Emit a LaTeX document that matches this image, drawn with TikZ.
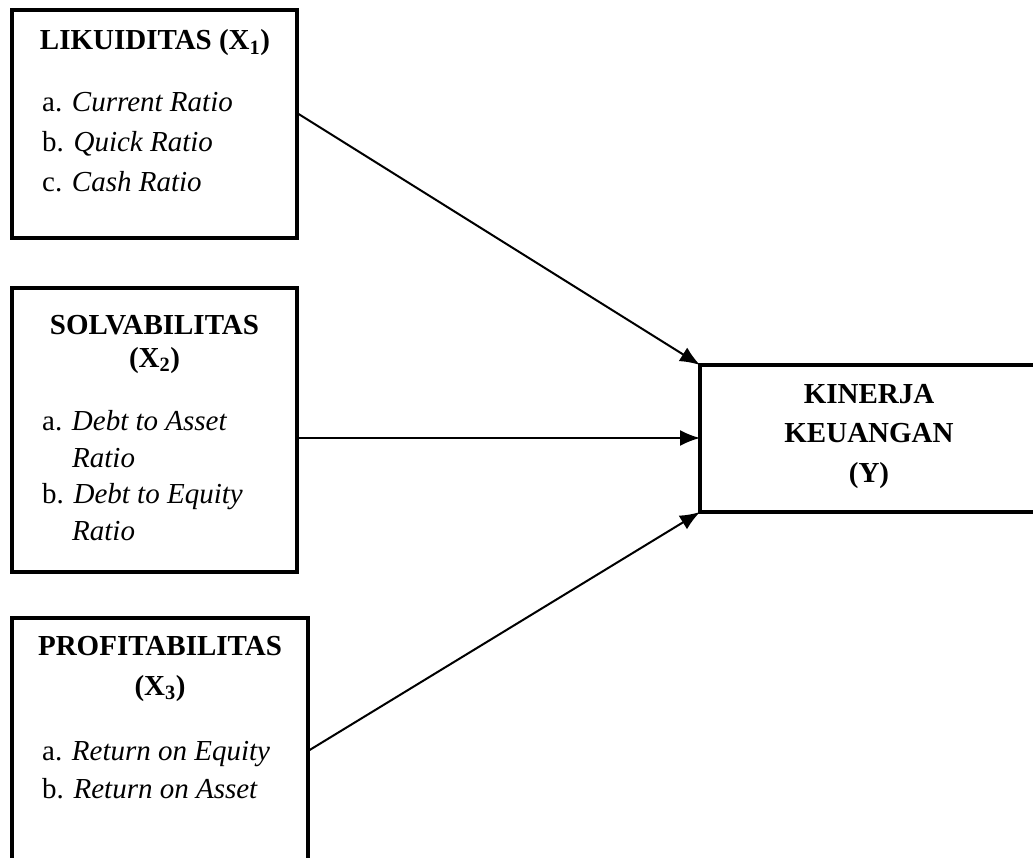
\documentclass[tikz,border=0pt]{standalone}
\usepackage{fontspec}
\setmainfont{Liberation Serif}
\usetikzlibrary{arrows.meta}
\tikzset{
  box/.style={draw=black, line width=3.5pt, rectangle, inner sep=0pt, outer sep=0pt, anchor=north west, fill=none},
  arr/.style={draw=black, line width=2pt, -{Latex[length=20pt,width=16pt]}},
  ttl/.style={font=\fontsize{29}{34}\selectfont\bfseries, anchor=base, inner sep=0pt},
  itm/.style={font=\fontsize{29}{34}\selectfont, anchor=base west, inner sep=0pt}
}
\begin{document}
\begin{tikzpicture}[x=1pt,y=-1pt]
\useasboundingbox (0,0) rectangle (1033,858);
\clip (0,0) rectangle (1033,858);
% boxes
\node[box, minimum width=285pt, minimum height=228pt] (b1) at (12,10) {};
\node[box, minimum width=285pt, minimum height=284pt] (b2) at (12,288) {};
\node[box, minimum width=296pt, minimum height=260pt] (b3) at (12,618) {};
\node[box, minimum width=360pt, minimum height=147pt] (y) at (700,365) {};
% box 1 texts
\node[ttl] (t1) at (155,50) {LIKUIDITAS (X\textsubscript{1})};
\node[itm] (i11) at (42,112) {a. \textit{Current Ratio}};
\node[itm] (i12) at (42,152) {b. \textit{Quick Ratio}};
\node[itm] (i13) at (42,192) {c. \textit{Cash Ratio}};
% box 2 texts
\node[ttl] (t2a) at (154.5,335) {SOLVABILITAS};
\node[ttl] (t2b) at (154.5,367) {(X\textsubscript{2})};
\node[itm] (i21) at (42,430) {a. \textit{Debt to Asset}};
\node[itm] (i22) at (72,467) {\textit{Ratio}};
\node[itm] (i23) at (42,503) {b. \textit{Debt to Equity}};
\node[itm] (i24) at (72,540) {\textit{Ratio}};
% box 3 texts
\node[ttl] (t3a) at (160,655) {PROFITABILITAS};
\node[ttl] (t3b) at (160,695) {(X\textsubscript{3})};
\node[itm] (i31) at (42,760) {a. \textit{Return on Equity}};
\node[itm] (i32) at (42,798) {b. \textit{Return on Asset}};
% Y texts
\node[ttl] (ty1) at (869,403) {KINERJA};
\node[ttl] (ty2) at (869,442) {KEUANGAN};
\node[ttl] (ty3) at (869,482) {(Y)};
% connectors
\coordinate (s1) at (b1.east |- 0,113);
\coordinate (s2) at (b2.east |- 0,438);
\coordinate (s3) at (b3.east |- 0,751);
\coordinate (e2) at (y.west |- 0,438);
\draw[arr] (s1) -- (y.north west);
\draw[arr] (s2) -- (e2);
\draw[arr] (s3) -- (y.south west);
\end{tikzpicture}
\end{document}
